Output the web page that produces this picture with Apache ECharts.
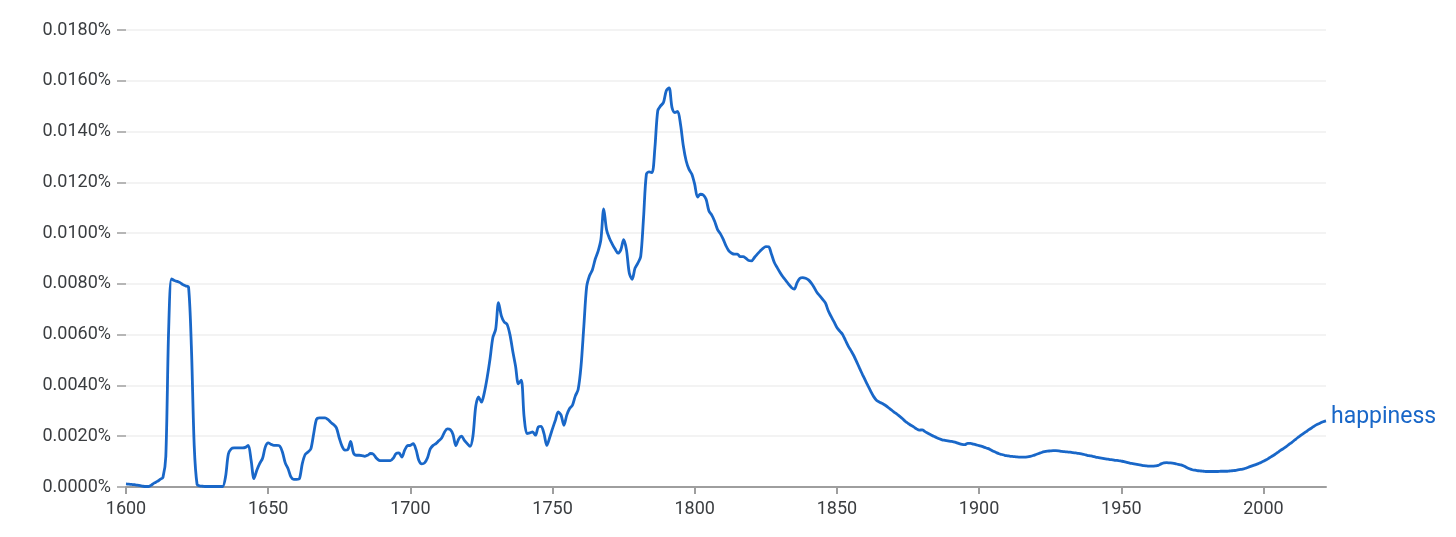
<!DOCTYPE html>
<html>
<head>
<meta charset="utf-8">
<script src="https://cdn.jsdelivr.net/npm/echarts@6/dist/echarts.min.js"></script>
<style>
html,body{margin:0;padding:0;background:#fff;}
#chart{width:1456px;height:537px;}
</style>
</head>
<body>
<div id="chart"></div>
<script>
// Ngram frequency of "happiness" (percent), yearly from 1600 to 2022
const firstYear = 1600;
const freq1600s = [
  0.00012,0.00011,0.0001,0.00009,0.00007,0.00005,0.00003,0.00002,0.00002,0.00008,
  0.00016,0.00022,0.0003,0.00038,0.0012,0.0062,0.0082,0.00813,0.0081,0.00805,
  0.00797,0.00792,0.00787,0.0055,0.0016,0.0001,0.00004,0.00003,0.00002,0.00002,
  0.00002,0.00002,0.00002,0.00002,0.00002,0.0004,0.0013,0.0015,0.00154,0.00154,
  0.00154,0.00154,0.00156,0.00164,0.00105,0.00033,0.00066,0.00092,0.00112,0.00158,
  0.00174,0.00168,0.00164,0.00164,0.00162,0.00138,0.00095,0.00072,0.0004,0.0003,
  0.0003,0.00033,0.00092,0.00128,0.00138,0.0015,0.0021,0.00267,0.00272,0.00272,
  0.00272,0.00266,0.00255,0.00246,0.00233,0.00193,0.0016,0.00145,0.00147,0.0018,
  0.00134,0.00125,0.00125,0.00124,0.00121,0.00125,0.00132,0.00129,0.00114,0.00105,
  0.00104,0.00104,0.00104,0.00104,0.00114,0.00132,0.00134,0.00118,0.00145,0.00163
];
const freq1700s = [
  0.00164,0.00171,0.00147,0.00104,0.00091,0.00095,0.00114,0.0015,0.00164,0.00171,
  0.00182,0.00193,0.00216,0.00229,0.00226,0.00207,0.00163,0.00189,0.002,0.00184,
  0.00171,0.0016,0.002,0.00318,0.00355,0.00334,0.00371,0.0043,0.00503,0.00588,
  0.00621,0.00726,0.00674,0.0065,0.00641,0.00601,0.00536,0.00476,0.00406,0.00421,
  0.00276,0.0021,0.00213,0.00217,0.00204,0.00237,0.00239,0.0021,0.00164,0.00195,
  0.0023,0.00263,0.00296,0.00283,0.00243,0.00283,0.00309,0.00322,0.00358,0.00384,
  0.00474,0.00632,0.00789,0.00832,0.00855,0.00897,0.00928,0.00974,0.01095,0.01013,
  0.0098,0.00957,0.00937,0.00921,0.00934,0.00974,0.00934,0.00842,0.00818,0.00862,
  0.00882,0.00908,0.0106,0.01232,0.01241,0.01238,0.01337,0.01482,0.01501,0.01514,
  0.01561,0.01572,0.01495,0.01475,0.01479,0.01429,0.01343,0.01284,0.01251,0.01232
];
const freq1800s = [
  0.01192,0.01142,0.01153,0.0115,0.01133,0.01087,0.01071,0.01047,0.01015,0.00998,
  0.00976,0.0095,0.0093,0.00921,0.00917,0.00917,0.00907,0.00907,0.00901,0.00892,
  0.00891,0.00904,0.00917,0.00929,0.0094,0.00947,0.00946,0.00917,0.00884,0.00864,
  0.00845,0.00828,0.00814,0.00799,0.00786,0.00779,0.00805,0.00822,0.00825,0.00822,
  0.00816,0.00803,0.00786,0.00766,0.00753,0.00739,0.00724,0.00693,0.00671,0.0065,
  0.00628,0.00614,0.00601,0.00578,0.00555,0.00536,0.00516,0.00492,0.00467,0.00443,
  0.0042,0.00397,0.00375,0.00355,0.00341,0.00334,0.00329,0.00322,0.00314,0.00305,
  0.00296,0.00288,0.00279,0.0027,0.00259,0.00251,0.00243,0.00237,0.00229,0.00224,
  0.00225,0.00218,0.00212,0.00206,0.002,0.00195,0.0019,0.00186,0.00184,0.00182,
  0.0018,0.00178,0.00175,0.00171,0.00168,0.00167,0.00172,0.00172,0.00169,0.00166
];
const freq1900s = [
  0.00163,0.0016,0.00156,0.00152,0.00147,0.00141,0.00136,0.00131,0.00128,0.00125,
  0.00123,0.00121,0.0012,0.00119,0.00118,0.00118,0.00118,0.00119,0.00121,0.00124,
  0.00128,0.00132,0.00136,0.00139,0.00141,0.00142,0.00143,0.00143,0.00142,0.0014,
  0.00139,0.00138,0.00137,0.00135,0.00134,0.00132,0.0013,0.00128,0.00125,0.00123,
  0.00121,0.00118,0.00116,0.00114,0.00112,0.0011,0.00108,0.00107,0.00105,0.00104,
  0.00102,0.001,0.00097,0.00094,0.00092,0.0009,0.00088,0.00086,0.00084,0.00083,
  0.00082,0.00082,0.00083,0.00085,0.00091,0.00095,0.00096,0.00095,0.00094,0.00092,
  0.00089,0.00087,0.00083,0.00077,0.00072,0.00068,0.00066,0.00064,0.00063,0.00062,
  0.00061,0.00061,0.00061,0.00061,0.00061,0.00062,0.00062,0.00062,0.00063,0.00064,
  0.00065,0.00067,0.00069,0.00071,0.00075,0.00079,0.00083,0.00087,0.00091,0.00096
];
const freq2000s = [
  0.00101,0.00107,0.00114,0.00121,0.00128,0.00136,0.00144,0.00151,0.00159,0.00168,
  0.00176,0.00185,0.00194,0.00202,0.0021,0.00218,0.00226,0.00233,0.00241,0.00247,
  0.00252,0.00257,0.0026
];
const seriesName = 'happiness';
const xTicks = [1600, 1650, 1700, 1750, 1800, 1850, 1900, 1950, 2000];
const yTicks = [0, 0.002, 0.004, 0.006, 0.008, 0.010, 0.012, 0.014, 0.016, 0.018];

const allFreq = [].concat(freq1600s, freq1700s, freq1800s, freq1900s, freq2000s);
const points = allFreq.map((v, i) => [firstYear + i, v]);
const lastYear = firstYear + allFreq.length - 1;

const chart = echarts.init(document.getElementById('chart'), null, {renderer: 'canvas'});
const textColor = '#3a3d40';
const font = 'Roboto';
chart.setOption({
  animation: false,
  backgroundColor: '#ffffff',
  grid: {left: 126, right: 130, top: 30, bottom: 50, containLabel: false},
  xAxis: {
    type: 'value',
    min: firstYear,
    max: lastYear,
    interval: 50,
    axisLine: {show: true, lineStyle: {color: '#9e9e9e', width: 2}},
    axisTick: {show: true, length: 7, lineStyle: {color: '#9e9e9e', width: 2}, customValues: xTicks},
    axisLabel: {
      color: textColor, fontFamily: font, fontSize: 18, margin: 13,
      customValues: xTicks,
      formatter: v => String(v)
    },
    splitLine: {show: false}
  },
  yAxis: {
    type: 'value',
    min: yTicks[0],
    max: yTicks[yTicks.length - 1],
    interval: 0.002,
    axisLine: {show: false},
    axisTick: {show: true, length: 9, lineStyle: {color: '#9e9e9e', width: 1.5}},
    axisLabel: {
      color: textColor, fontFamily: font, fontSize: 18, margin: 15,
      formatter: v => v.toFixed(4) + '%'
    },
    splitLine: {show: true, lineStyle: {color: '#efefef', width: 1.5}}
  },
  series: [{
    name: seriesName,
    type: 'line',
    data: points,
    showSymbol: false,
    smooth: 0.3,
    lineStyle: {color: '#1967c8', width: 2.8},
    endLabel: {
      show: true,
      formatter: seriesName,
      color: '#1967c8',
      fontFamily: font,
      fontSize: 23,
      distance: 5,
      offset: [0, -4]
    }
  }]
});
</script>
</body>
</html>
